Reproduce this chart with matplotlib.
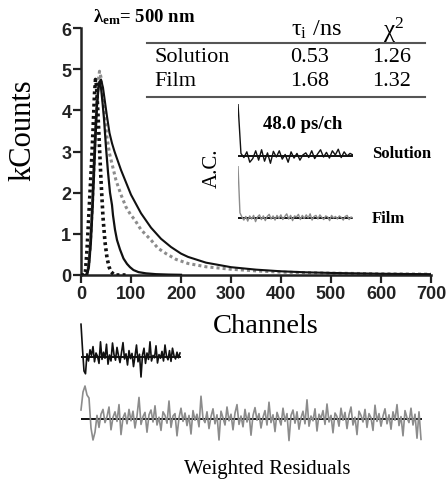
import numpy as np
import matplotlib
matplotlib.use("Agg")
import matplotlib.pyplot as plt

plt.rcParams['mathtext.fontset'] = 'custom'
plt.rcParams['mathtext.rm'] = 'Liberation Serif'
plt.rcParams['mathtext.it'] = 'Liberation Serif:italic'
plt.rcParams['mathtext.bf'] = 'Liberation Serif:bold'

# ---------------- data ----------------
# instrument response (dotted black)
irf_ch = [0, 6, 9, 12, 15, 18, 21, 24, 27, 29, 31, 34, 37, 40, 44, 48, 52, 56, 60, 65, 70, 90]
irf_kc = [0, 0, 0.1, 0.6, 1.3, 2.0, 2.7, 3.5, 4.4, 4.75, 4.6, 3.9, 3.1, 2.3, 1.4, 0.8, 0.42, 0.2, 0.08, 0.02, 0, 0]

# solution decay (solid black)
sol_ch = [0, 10, 14, 18, 22, 26, 30, 34, 37, 40, 43, 46, 50, 54, 58, 62, 64, 68, 72, 78, 85, 92, 98,
          105, 115, 130, 150, 175, 200]
sol_kc = [0, 0, 0.1, 0.6, 1.5, 2.7, 3.8, 4.5, 4.7, 4.55, 4.2, 3.8, 3.1, 2.5, 2.0, 1.7, 1.45, 1.1, 0.85,
          0.62, 0.4, 0.27, 0.19, 0.12, 0.07, 0.04, 0.02, 0.01, 0.005]

# film decay data (grey dots)
film_ch = [0, 12, 16, 20, 24, 28, 32, 35, 37, 40, 44, 48, 52, 57, 60, 70, 80, 90, 100, 107, 120, 140,
           154, 170, 190, 214, 250, 300, 350, 400, 500, 600, 700]
film_kc = [0, 0, 0.3, 1.0, 2.0, 3.2, 4.2, 4.75, 4.95, 4.8, 4.3, 3.8, 3.35, 2.95, 2.8, 2.3, 1.95, 1.65,
           1.45, 1.35, 1.1, 0.85, 0.65, 0.52, 0.38, 0.28, 0.2, 0.14, 0.1, 0.07, 0.045, 0.03, 0.02]

# film fit (solid black, slow)
fit_ch = [0, 12, 16, 20, 24, 28, 32, 36, 40, 44, 48, 52, 57, 62, 67, 80, 100, 120, 140, 160, 180, 200,
          214, 250, 300, 350, 400, 450, 500, 550, 600, 700]
fit_kc = [0, 0, 0.2, 0.8, 1.8, 3.0, 4.1, 4.65, 4.75, 4.55, 4.2, 3.85, 3.45, 3.2, 3.0, 2.55, 1.95, 1.5,
          1.15, 0.88, 0.68, 0.52, 0.44, 0.3, 0.19, 0.13, 0.09, 0.065, 0.05, 0.04, 0.03, 0.02]

# weighted residuals
res_sol_step = 3
res_sol = [8.2, 2.0, -3.5, -4.2, 0.8, -1.0, 1.8, 0.4, 2.6, -1.2,
           1.0, 0.2, -1.6, 3.8, -0.6, 1.2, -0.3, 3.2, -1.8, 0.5,
           -1.0, 3.5, 0.6, -0.8, 2.4, 0.3, -1.4, 1.1, 3.6, -0.5,
           0.8, -2.0, 1.6, -0.4, 0.9, -2.4, 0.2, 3.0, -1.2, 0.7,
           -5.0, 0.5, 2.2, -1.6, 1.0, -0.6, 3.8, -1.0, 0.4, -0.2,
           2.8, -1.5, 0.6, -0.3, 1.4, -1.0, 3.0, 0.2, -0.7, 1.6,
           -1.1, 2.2, 0.3, -0.5, 1.2, -0.2, 1.0]
res_film_step = 4
res_film = [1.5, 4.5, 5.5, 4.0, 3.5, -1.5, -3.5, -2.2, 0.6, -1.4,
            0.8, 1.6, -0.6, 0.4, 2.0, -1.8, 0.3, 1.2, -0.4, 2.4,
            -2.6, 0.2, 1.0, -0.8, 1.6, -0.3, 1.3, -1.5, 0.5, 3.6,
            -0.9, 0.4, 1.1, -2.2, 0.7, 1.5, -0.5, 2.2, -1.0, 0.3,
            -1.9, 1.2, 0.6, -0.7, 3.0, -1.4, 0.5, 0.9, -2.8, 0.2,
            1.8, -0.4, 1.0, -1.1, 0.6, -2.5, 1.4, -0.2, 0.8, -1.3,
            3.8, 0.1, -0.6, 1.2, -1.6, 0.4, 1.7, -0.8, 0.7, -3.5,
            1.3, 0.2, -1.0, 2.0, -0.3, 0.8, -1.8, 1.0, 2.4, -0.9,
            0.5, -1.3, 1.6, -0.5, 1.0, -2.7, 0.6, 1.9, -0.2, 0.9,
            -1.5, 0.3, 1.4, -1.0, 2.8, -0.6, 0.7, -2.1, 1.1, 0.1,
            -1.0, 1.8, -0.4, 0.9, -3.6, 0.6, 1.5, -0.7, 1.2, -1.7,
            0.2, 1.3, -0.8, 3.2, -1.2, 0.5, -0.3, 1.7, -2.0, 0.8,
            0.1, 1.4, -0.9, 2.5, -0.5, 0.6, -2.3, 1.0, 0.4, -1.2,
            1.8, -0.2, 1.1, -1.6, 0.7, 2.0, -1.0, 0.3, -2.6, 1.3,
            0.6, -0.5, 1.6, -1.4, 0.9, 0.2, -1.9, 2.3, -0.4, 0.9,
            -1.2, 0.5, 1.7, -0.8, 0.7, -1.7, 1.2, -0.2, 2.4, -1.1,
            0.4, -2.8, 1.4, 0.2, -0.6, 1.8, -1.0, 0.8, -3.2, 1.2, -3.4]

# autocorrelation of residuals
ac_sol = [1.0, 0.05, -0.03, 0.08, -0.12, -0.05, 0.1, -0.08, 0.12, -0.1,
          0.06, -0.14, 0.09, -0.02, 0.1, -0.06, 0.03, -0.12, 0.08, -0.04,
          0.05, -0.08, 0.02, 0.06, -0.03, 0.1, -0.05, 0.04, 0.12, -0.02,
          0.07, -0.04, 0.1, 0.02, 0.13, -0.03, 0.08, 0.0, 0.05, 0.02]
ac_film = [1.0, 0.1, 0.02, -0.04, 0.03, -0.06, 0.04, -0.02, 0.05, -0.07,
           0.02, 0.06, -0.03, 0.04, -0.05, 0.03, 0.07, -0.02, 0.04, -0.04,
           0.05, -0.01, 0.06, -0.03, 0.03, 0.08, -0.02, 0.05, -0.05, 0.04,
           0.02, 0.07, -0.03, 0.05, -0.01, 0.06, 0.0, 0.08, -0.04, 0.03,
           0.05, -0.02, 0.06, 0.01, -0.03, 0.04, 0.02, -0.05, 0.05, 0.0,
           0.03, -0.02, 0.04, 0.01, -0.04, 0.03, 0.05, -0.03, 0.02, 0.0]

table_rows = ["Solution", "Film"]
table_tau = ["0.53", "1.68"]
table_chi = ["1.26", "1.32"]

# ---------------- figure ----------------
W, H = 448, 481
fig = plt.figure(figsize=(W / 100, H / 100), dpi=100)

def box(x0, y0, x1, y1):
    return [x0 / W, 1 - y1 / H, (x1 - x0) / W, (y1 - y0) / H]

def ft(x, y, s, **kw):
    return fig.text(x / W, 1 - y / H, s, **kw)

BLACK = '#111111'
GREY = '#8c8c8c'

ax = fig.add_axes(box(81, 29, 431, 276))
ax.plot(film_ch, film_kc, color=GREY, lw=2.2, ls=(0, (1, 1)), zorder=2)
ax.plot(fit_ch, fit_kc, color=BLACK, lw=1.5, zorder=3)
ax.plot(sol_ch, sol_kc, color=BLACK, lw=1.6, zorder=3)
ax.plot(irf_ch, irf_kc, color=BLACK, lw=2.6, ls=(0, (0.8, 0.9)), zorder=4)
ax.set_xlim(0, 700)
ax.set_ylim(0, 6)
ax.set_xticks(range(0, 701, 100))
ax.set_yticks(range(0, 7))
for s in ['top', 'right']:
    ax.spines[s].set_visible(False)
for s in ['left', 'bottom']:
    ax.spines[s].set_linewidth(1.8)
    ax.spines[s].set_color('#222222')
ax.tick_params(direction='out', length=6, width=1.6, pad=1, colors='#222222')
for lab in ax.get_xticklabels() + ax.get_yticklabels():
    lab.set_fontfamily('Liberation Sans')
    lab.set_fontweight('bold')
    lab.set_fontsize(13)

# residual panels
r1 = fig.add_axes(box(81, 338, 431, 378))
r1.plot([0, res_sol_step * (len(res_sol) - 1)], [0, 0], color=BLACK, lw=1.4)
r1.plot(np.arange(len(res_sol)) * res_sol_step, res_sol, color=BLACK, lw=1.2, clip_on=False)
r1.set_xlim(0, 700); r1.set_ylim(-5, 5); r1.axis('off')

r2 = fig.add_axes(box(81, 390, 431, 450))
r2.plot([0, res_film_step * (len(res_film) - 1)], [0, 0], color=BLACK, lw=1.4)
r2.plot(np.arange(len(res_film)) * res_film_step, res_film, color=GREY, lw=1.2, clip_on=False)
r2.set_xlim(0, 700); r2.set_ylim(-5, 5); r2.axis('off')

# autocorrelation insets
a1 = fig.add_axes(box(238, 105, 353, 170))
a1.plot([0, len(ac_sol) - 1], [0, 0], color=BLACK, lw=1.4)
a1.plot(range(len(ac_sol)), ac_sol, color=BLACK, lw=1.0)
a1.set_xlim(0, len(ac_sol) - 1); a1.set_ylim(-0.25, 1.0); a1.axis('off')

a2 = fig.add_axes(box(238, 167, 353, 232))
a2.plot([0, len(ac_film) - 1], [0, 0], color=BLACK, lw=1.4)
a2.plot(range(len(ac_film)), ac_film, color=GREY, lw=1.0)
a2.set_xlim(0, len(ac_film) - 1); a2.set_ylim(-0.25, 1.0); a2.axis('off')

serif = 'Liberation Serif'
# labels
ft(23, 130, 'kCounts', family=serif, fontsize=22, rotation=90, ha='center', va='center')
ft(266, 327, 'Channels', family=serif, fontsize=20.5, ha='center', va='center')
ft(267, 470, 'Weighted Residuals', family=serif, fontsize=15, ha='center', va='center')
ft(212, 168, 'A.C.', family=serif, fontsize=15, rotation=90, ha='center', va='center')
ft(303, 125, '48.0 ps/ch', family=serif, fontweight='bold', fontsize=13.5, ha='center', va='center')
ft(372, 154, 'Solution', family=serif, fontweight='bold', fontsize=12, ha='left', va='center')
ft(372, 219, 'Film', family=serif, fontweight='bold', fontsize=12, ha='left', va='center')

# lambda label (single text with subscript)
ft(93, 17, r'λ$_{\mathbf{em}}$= 500 nm', family=serif, fontweight='bold', fontsize=13.5,
   ha='left', va='center')

# table
ft(316, 30, r'$\mathrm{\tau_{i}}$ /ns', family=serif, fontsize=17.5, ha='center', va='center')
ft(394, 30, r'$\mathrm{\chi^{2}}$', family=serif, fontsize=18, ha='center', va='center')
for yy in (44, 98):
    fig.add_artist(plt.Line2D([147 / W, 425 / W], [1 - yy / H, 1 - yy / H], color='#555555', lw=1.5))
for i, (name, tau, chi) in enumerate(zip(table_rows, table_tau, table_chi)):
    yy = 58 + i * 24
    ft(154, yy, name, family=serif, fontsize=16, ha='left', va='center')
    ft(310, yy, tau, family=serif, fontsize=16, ha='center', va='center')
    ft(392, yy, chi, family=serif, fontsize=16, ha='center', va='center')

fig.savefig('out.png', dpi=100)
